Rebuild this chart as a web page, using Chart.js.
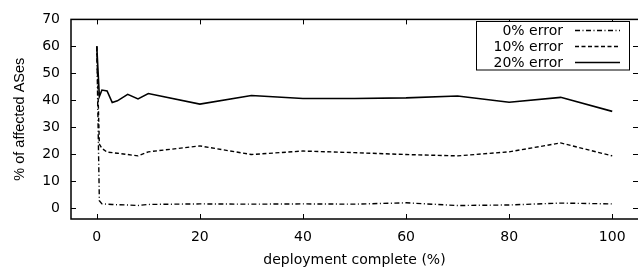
<!DOCTYPE html>
<html>
<head>
<meta charset="utf-8">
<script src="https://cdn.jsdelivr.net/npm/chart.js@4"></script>
<style>
  html, body { margin: 0; padding: 0; background: #fff; }
  #wrap { width: 638px; height: 269px; }
</style>
</head>
<body>
<div id="wrap"><canvas id="c" width="638" height="269"></canvas></div>
<script>
const deployment = [0, 0.5, 1, 2, 3, 4, 6, 8, 10, 20, 30, 40, 50, 60, 70, 80, 90, 100];
const err0  = [60, 2.8, 1.6, 1.5, 1.4, 1.3, 1.2, 1.0, 1.4, 1.6, 1.5, 1.6, 1.5, 2.0, 1.0, 1.2, 1.9, 1.6];
const err10 = [60, 23.8, 22.2, 20.8, 20.6, 20.4, 19.9, 19.4, 20.9, 23.1, 19.9, 21.2, 20.6, 19.9, 19.4, 20.9, 24.2, 19.4];
const err20 = [60, 41.4, 43.8, 43.5, 39.2, 39.8, 42.2, 40.5, 42.5, 38.6, 41.8, 40.7, 40.7, 40.9, 41.6, 39.3, 41.1, 35.9];
const seriesLabels = ['0% error', '10% error', '20% error'];
const xTicks = [0, 20, 40, 60, 80, 100];
const yTicks = [0, 10, 20, 30, 40, 50, 60, 70];

const FONT = '"DejaVu Sans", sans-serif';
const VFONT = '"Liberation Sans", Arial, sans-serif';
const dashes = [[5, 2.5, 1, 2.5], [4, 2.5], []];

function pts(ys) { return deployment.map((x, i) => ({x: x, y: ys[i]})); }

const datasets = [err0, err10, err20].map((ys, i) => ({
  label: seriesLabels[i],
  data: pts(ys),
  borderColor: '#000',
  borderWidth: i === 2 ? 1.6 : 1.4,
  borderDash: dashes[i],
  pointRadius: 0,
  tension: 0,
  fill: false
}));

const framePlugin = {
  id: 'frame',
  afterDatasetsDraw(chart) {
    const {ctx, chartArea: a, scales: {x, y}} = chart;
    ctx.save();
    ctx.strokeStyle = '#000';
    ctx.lineWidth = 1.5;
    ctx.setLineDash([]);
    ctx.strokeRect(a.left, a.top, a.right - a.left + 1, a.bottom - a.top);
    ctx.lineWidth = 1;
    const L = 5;
    xTicks.forEach(v => {
      const px = Math.round(x.getPixelForValue(v)) + 0.5;
      ctx.beginPath();
      ctx.moveTo(px, a.bottom); ctx.lineTo(px, a.bottom - L);
      ctx.moveTo(px, a.top); ctx.lineTo(px, a.top + L);
      ctx.stroke();
    });
    yTicks.forEach(v => {
      const py = Math.round(y.getPixelForValue(v)) + 0.5;
      ctx.beginPath();
      ctx.moveTo(a.left, py); ctx.lineTo(a.left + L, py);
      ctx.moveTo(a.right, py); ctx.lineTo(a.right - L, py);
      ctx.stroke();
    });
    // legend box
    const bx = 476.5, by = 21.5, bw = 153, bh = 48.5;
    ctx.fillStyle = '#fff';
    ctx.fillRect(bx, by, bw, bh);
    ctx.lineWidth = 1;
    ctx.strokeRect(bx, by, bw, bh);
    ctx.font = '14px ' + FONT;
    ctx.fillStyle = '#000';
    ctx.textAlign = 'right';
    ctx.textBaseline = 'middle';
    chart.data.datasets.forEach((ds, i) => {
      const ry = 30.5 + i * 16;
      ctx.fillText(ds.label, 563, ry + 0.5);
      ctx.beginPath();
      ctx.setLineDash(ds.borderDash);
      ctx.lineWidth = ds.borderWidth;
      ctx.moveTo(575, ry); ctx.lineTo(620, ry);
      ctx.stroke();
    });
    ctx.restore();
  }
};

new Chart(document.getElementById('c'), {
  type: 'line',
  data: { datasets: datasets },
  options: {
    responsive: false,
    animation: false,
    devicePixelRatio: 1,
    layout: { padding: { left: 0, right: 0, top: 14, bottom: 0 } },
    plugins: { legend: { display: false }, tooltip: { enabled: false } },
    scales: {
      x: {
        type: 'linear',
        min: -5, max: 105,
        afterBuildTicks(s) { s.ticks = xTicks.map(v => ({value: v})); },
        afterFit(s) { s.height = 50; },
        grid: { display: false, drawTicks: false },
        border: { display: false },
        ticks: { color: '#000', font: { family: FONT, size: 14 }, padding: 10, maxRotation: 0, autoSkip: false },
        title: { display: true, text: 'deployment complete (%)', color: '#000', font: { family: FONT, size: 14 }, padding: { top: 2, bottom: 0 } }
      },
      y: {
        type: 'linear',
        min: -4, max: 70,
        afterBuildTicks(s) { s.ticks = yTicks.map(v => ({value: v})); },
        afterFit(s) { s.width = 71; },
        grid: { display: false, drawTicks: false },
        border: { display: false },
        ticks: { color: '#000', font: { family: FONT, size: 14 }, padding: 11, autoSkip: false },
        title: { display: true, text: '% of affected ASes', color: '#000', font: { family: VFONT, size: 14.5 }, padding: { top: 11, bottom: 0 } }
      }
    }
  },
  plugins: [framePlugin]
});
</script>
</body>
</html>
